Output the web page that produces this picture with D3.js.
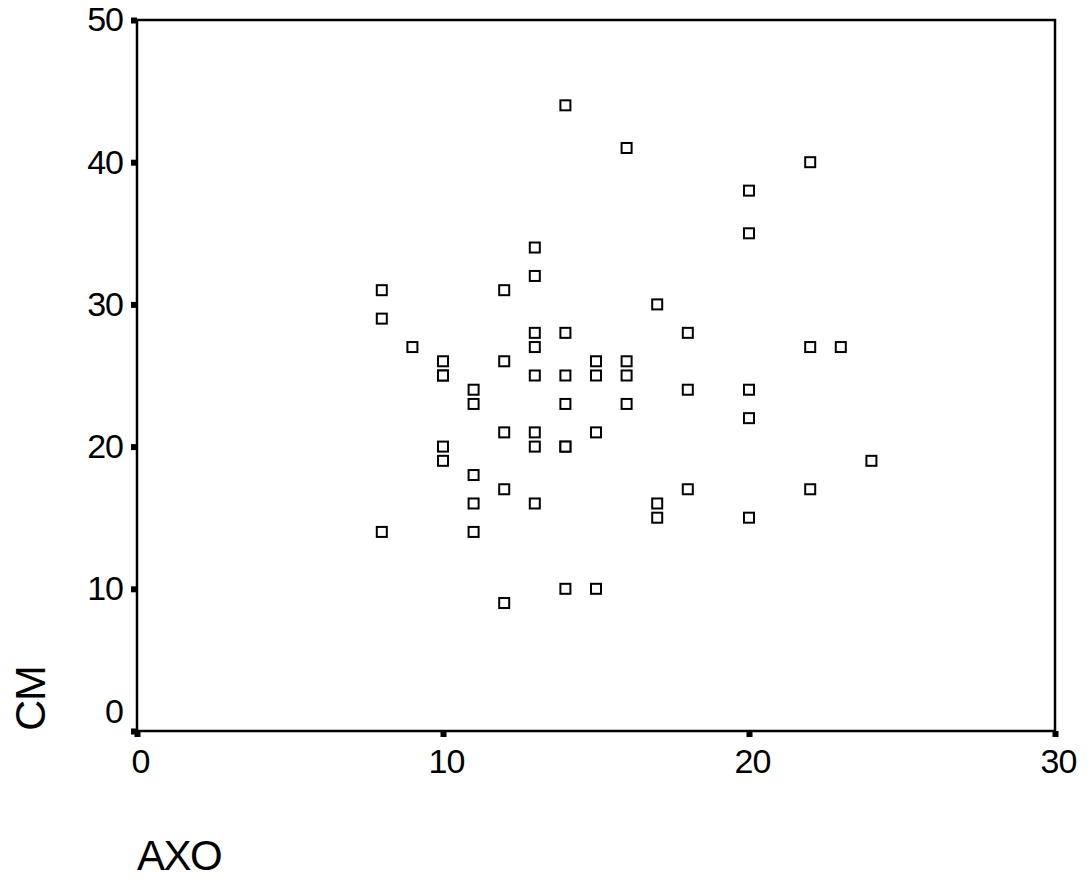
<!DOCTYPE html>
<html>
<head>
<meta charset="utf-8">
<script src="https://cdnjs.cloudflare.com/ajax/libs/d3/7.8.5/d3.min.js"></script>
<style>
  body { margin: 0; background: #fff; }
  text { font-family: "Liberation Sans", Arial, sans-serif; fill: #000; }
</style>
</head>
<body>
<div id="chart-area"></div>
<script>
// AXO vs CM
var axo = [8, 8, 8, 9, 10, 10, 10, 10, 10,
           11, 11, 11, 11, 11,
           12, 12, 12, 12, 12,
           13, 13, 13, 13, 13, 13, 13, 13,
           14, 14, 14, 14, 14, 14, 14,
           15, 15, 15, 15,
           16, 16, 16, 16,
           17, 17, 17,
           18, 18, 18,
           20, 20, 20, 20, 20,
           22, 22, 22, 23, 24];
var cm  = [31, 29, 14, 27, 26, 25, 25, 20, 19,
           24, 23, 18, 16, 14,
           31, 26, 21, 17, 9,
           34, 32, 28, 27, 25, 21, 20, 16,
           44, 28, 25, 23, 20, 20, 10,
           26, 25, 21, 10,
           41, 26, 25, 23,
           30, 16, 15,
           28, 24, 17,
           38, 35, 24, 22, 15,
           40, 27, 17, 27, 19];
var xTicks = [0, 10, 20, 30];
var yTicks = [0, 10, 20, 30, 40, 50];

var margin = {top: 20, right: 34, bottom: 148, left: 137};
var W = 1089, H = 879;
var w = W - margin.left - margin.right;
var h = H - margin.top - margin.bottom;

var svg = d3.select("#chart-area").append("svg")
    .attr("width", W)
    .attr("height", H);

var g = svg.append("g")
    .attr("transform", "translate(" + margin.left + "," + margin.top + ")");

var x = d3.scaleLinear().domain([0, 30]).range([0, w]);
var y = d3.scaleLinear().domain([0, 50]).range([h, 0]);

// frame
g.append("rect")
    .attr("x", 0).attr("y", 0)
    .attr("width", w).attr("height", h)
    .attr("fill", "none")
    .attr("stroke", "#000")
    .attr("stroke-width", 2.5);

var xAxis = g.append("g")
    .attr("transform", "translate(0," + h + ")")
    .call(d3.axisBottom(x).tickValues(xTicks).tickSize(6).tickPadding(12));

var yAxis = g.append("g")
    .call(d3.axisLeft(y).tickValues(yTicks).tickSize(6).tickPadding(8));

[xAxis, yAxis].forEach(function(a) {
    a.select(".domain").remove();
    a.selectAll(".tick line").attr("stroke", "#000").attr("stroke-width", 6);
    a.selectAll(".tick text")
        .attr("font-size", "34px")
        .attr("font-family", "Liberation Sans, Arial, sans-serif")
        .attr("letter-spacing", "-1px")
        .attr("fill", "#000");
});
xAxis.selectAll(".tick text").attr("dx", 3);
// the 0 on the y axis sits above its tick in the original
yAxis.selectAll(".tick text").filter(function(d) { return d === 0; })
    .attr("dy", "-0.25em");

// points
g.selectAll(".pt")
    .data(axo.map(function(d, i) { return {x: d, y: cm[i]}; }))
    .enter().append("rect")
    .attr("class", "pt")
    .attr("x", function(d) { return x(d.x) - 5; })
    .attr("y", function(d) { return y(d.y) - 5; })
    .attr("width", 10)
    .attr("height", 10)
    .attr("fill", "#fff")
    .attr("stroke", "#000")
    .attr("stroke-width", 2);

// axis titles
svg.append("text")
    .attr("x", 137)
    .attr("y", 870)
    .attr("font-size", "42px")
    .attr("letter-spacing", "-1.5px")
    .text("AXO");

svg.append("text")
    .attr("transform", "translate(45,731) rotate(-90)")
    .attr("font-size", "43px")
    .attr("letter-spacing", "-1px")
    .text("CM");
</script>
</body>
</html>
